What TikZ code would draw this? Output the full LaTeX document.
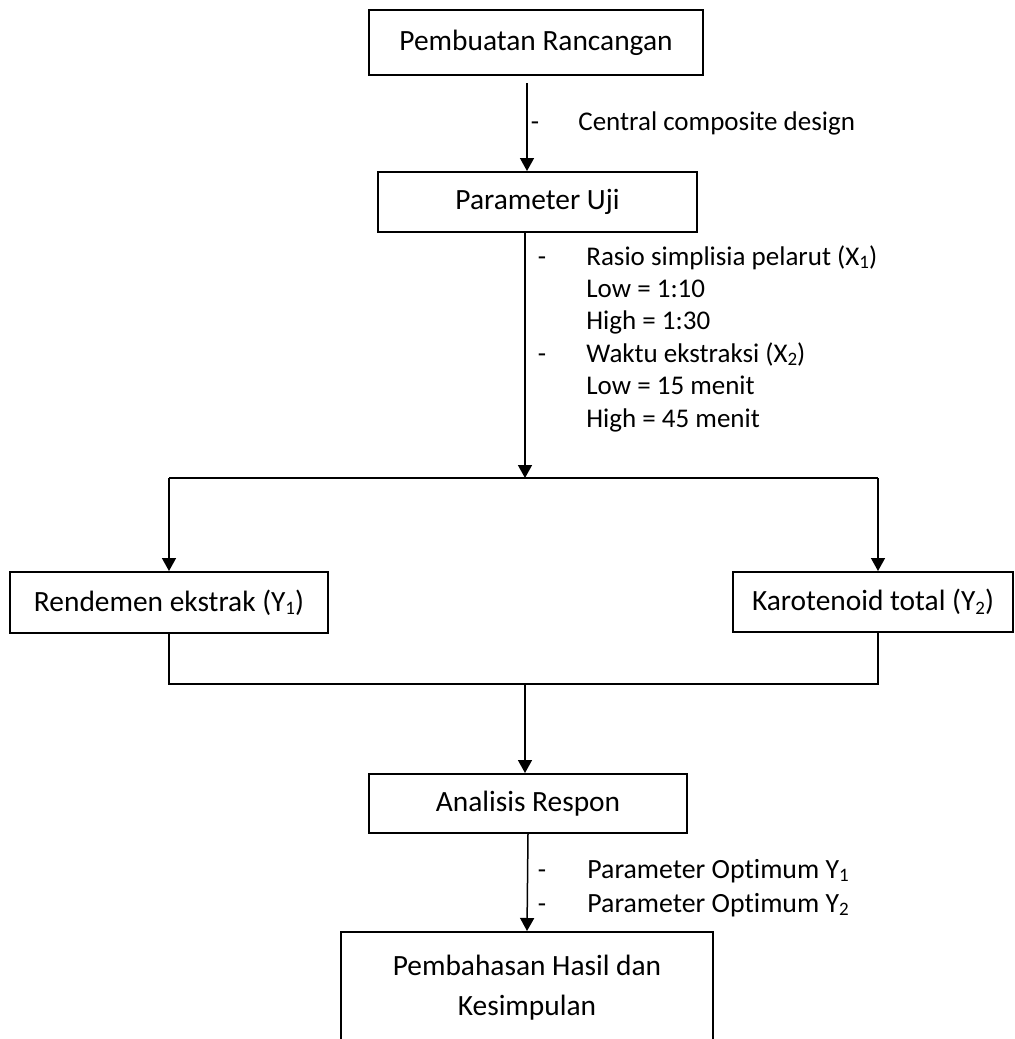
\documentclass[tikz,border=0pt]{standalone}
\usepackage{fontspec}
\setmainfont{Carlito}[Ligatures=NoCommon]
\usetikzlibrary{arrows.meta}
\newcommand{\lowidx}[1]{\raisebox{-0.25ex}{\fontsize{9.5}{10}\selectfont #1}}
\tikzset{
  procbox/.style={draw=black, line width=1pt, fill=white, align=center, inner sep=2pt,
    font={\fontsize{14.7}{20}\selectfont}},
  flow/.style={-{Triangle[length=6.5pt,width=7pt]}, line width=0.75pt, draw=black},
  link/.style={line width=0.75pt, draw=black},
  note/.style={anchor=base west, inner sep=0pt},
  dashmark/.style={anchor=base, inner sep=0pt}
}

\begin{document}
\begin{tikzpicture}[font={\fontsize{13.5}{16.5}\selectfont}, x=0.5pt, y=-0.5pt]
  \useasboundingbox (0,0) rectangle (1015,1039);

  \node[procbox, minimum width=167pt, minimum height=32.5pt] (rancang) at (536,42.5) {Pembuatan Rancangan};
  \node[procbox, minimum width=159.5pt, minimum height=30pt] (uji) at (537.5,202) {Parameter Uji};
  \node[procbox, minimum width=159pt, minimum height=30.5pt] (rendemen) at (169,602.5) {Rendemen ekstrak (Y\lowidx{1})};
  \node[procbox, minimum width=140pt, minimum height=30pt] (karoten) at (873,602) {Karotenoid total (Y\lowidx{2})};
  \node[procbox, minimum width=159pt, minimum height=29.5pt] (respon) at (528,803.5) {Analisis Respon};
  \node[procbox, minimum width=186pt, minimum height=56pt] (hasil) at (527,988)
    {Pembahasan Hasil dan\\Kesimpulan};

  \coordinate (split) at (525,478);
  \coordinate (merge) at (525,684);

  % notes beside the arrows
  \node[dashmark] (d1) at (535,130) {-};
  \node[note] (n1) at (578,130) {Central composite design};
  \node[dashmark] (d2) at (542,265) {-};
  \node[dashmark] (d3) at (542,362.2) {-};
  \foreach \i/\txt in {0/{Rasio simplisia pelarut (X\lowidx{1})},1/{Low = 1:10},2/{High = 1:30},
                       3/{Waktu ekstraksi (X\lowidx{2})},4/{Low = 15 menit},5/{High = 45 menit}} {
    \node[note] (p\i) at (586,265+32.4*\i) {\txt};
  }
  \node[dashmark] (d4) at (542,878) {-};
  \node[dashmark] (d5) at (542,912) {-};
  \node[note, font={\fontsize{13.9}{16.5}\selectfont}] (o1) at (587,878) {Parameter Optimum Y\lowidx{1}};
  \node[note, font={\fontsize{13.9}{16.5}\selectfont}] (o2) at (587,912) {Parameter Optimum Y\lowidx{2}};

  % connectors
  \draw[flow] ([xshift=-4.5pt,yshift=-3.5pt]rancang.south) -- ([xshift=-5.25pt]uji.north);
  \draw[flow] ([xshift=-6.25pt]uji.south) -- (split);
  \draw[link] (split -| rendemen.north) -- (split -| karoten.north) -- ++(2.5pt,0);
  \draw[flow] (split -| rendemen.north) -- (rendemen.north);
  \draw[flow] ([xshift=2.5pt]split -| karoten.north) -- ([xshift=2.5pt]karoten.north);
  \draw[link] (rendemen.south) -- (merge -| rendemen.south) -- ([xshift=2.5pt]merge -| karoten.south)
    -- ([xshift=2.5pt]karoten.south);
  \draw[flow] (merge) -- (respon.north -| merge);
  \draw[flow] (respon.south) -- (hasil.north);
\end{tikzpicture}
\end{document}
